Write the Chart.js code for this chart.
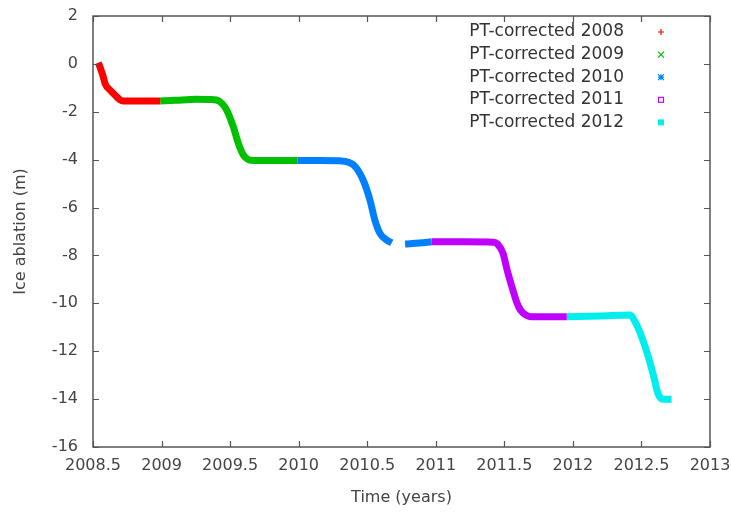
<!DOCTYPE html>
<html><head><meta charset="utf-8">
<script src="https://cdn.jsdelivr.net/npm/chart.js@4/dist/chart.umd.min.js"></script>
<style>html,body{margin:0;padding:0;background:#fff}</style>
</head><body>
<canvas id="c" width="731" height="512"></canvas>
<script>
// ---- data ----
const seriesLabels = ['PT-corrected 2008','PT-corrected 2009','PT-corrected 2010','PT-corrected 2011','PT-corrected 2012'];
const seriesColors = ['#ff0000','#00c000','#0080ff','#c000ff','#00eeee'];
const seriesMarkers = ['plus','cross','star','openSquare','filledSquare'];

const t2008 = [2008.539, 2008.552, 2008.570, 2008.590, 2008.624, 2008.660, 2008.697, 2008.72, 2008.85, 2008.99];
const v2008 = [0.05, -0.15, -0.45, -0.85, -1.09, -1.30, -1.50, -1.55, -1.55, -1.55];

const t2009 = [2008.99, 2009.10, 2009.256, 2009.35, 2009.40, 2009.44, 2009.475, 2009.523, 2009.56, 2009.596, 2009.625, 2009.645, 2009.75, 2009.90, 2009.99];
const v2009 = [-1.55, -1.52, -1.48, -1.49, -1.51, -1.65, -1.93, -2.62, -3.32, -3.80, -3.97, -4.02, -4.03, -4.03, -4.03];

const t2010 = [2009.99, 2010.15, 2010.30, 2010.40, 2010.47, 2010.52, 2010.556, 2010.593, 2010.642, 2010.679, 2010.72, 2010.776, 2010.88, 2010.97];
const v2010 = [-4.03, -4.03, -4.05, -4.22, -4.85, -5.69, -6.53, -7.08, -7.36, -7.47, null, -7.52, -7.48, -7.43];

const t2011 = [2010.97, 2011.20, 2011.42, 2011.45, 2011.49, 2011.52, 2011.56, 2011.59, 2011.62, 2011.66, 2011.70, 2011.82, 2011.955];
const v2011 = [-7.43, -7.43, -7.45, -7.52, -7.90, -8.60, -9.40, -9.95, -10.30, -10.50, -10.56, -10.56, -10.56];

const t2012 = [2011.955, 2012.20, 2012.415, 2012.46, 2012.51, 2012.55, 2012.59, 2012.62, 2012.66, 2012.72];
const v2012 = [-10.56, -10.53, -10.49, -10.84, -11.53, -12.23, -13.07, -13.76, -14.01, -14.01];

const xTicks = [2008.5, 2009, 2009.5, 2010, 2010.5, 2011, 2011.5, 2012, 2012.5, 2013];
const yTicks = [2, 0, -2, -4, -6, -8, -10, -12, -14, -16];
const xTitle = 'Time (years)';
const yTitle = 'Ice ablation (m)';

// ---- build datasets ----
const allT = [t2008, t2009, t2010, t2011, t2012];
const allV = [v2008, v2009, v2010, v2011, v2012];
const datasets = allT.map((ts, i) => ({
  label: seriesLabels[i],
  data: ts.map((t, j) => ({x: t, y: allV[i][j]})),
  borderColor: seriesColors[i],
  backgroundColor: seriesColors[i],
  showLine: true,
  borderWidth: 7,
  pointRadius: 0,
  cubicInterpolationMode: 'monotone',
  spanGaps: false
}));

Chart.defaults.font.family = 'DejaVu Sans';
Chart.defaults.font.size = 16;
Chart.defaults.color = '#444';

const frameAndLegend = {
  id: 'frameAndLegend',
  afterDatasetsDraw(chart) {
    const {ctx, chartArea: a, scales} = chart;
    ctx.save();
    // inward ticks on all four sides
    ctx.strokeStyle = '#555';
    ctx.lineWidth = 1.2;
    const L = 6;
    ctx.beginPath();
    xTicks.forEach(v => {
      const px = Math.round(scales.x.getPixelForValue(v)) + 0.5;
      ctx.moveTo(px, a.bottom); ctx.lineTo(px, a.bottom - L);
      ctx.moveTo(px, a.top); ctx.lineTo(px, a.top + L);
    });
    yTicks.forEach(v => {
      const py = Math.round(scales.y.getPixelForValue(v)) + 0.5;
      ctx.moveTo(a.left, py); ctx.lineTo(a.left + L, py);
      ctx.moveTo(a.right, py); ctx.lineTo(a.right - L, py);
    });
    ctx.stroke();
    ctx.lineWidth = 1.5;
    ctx.strokeStyle = '#555';
    ctx.strokeRect(a.left, a.top, a.right - a.left, a.bottom - a.top);

    // legend (gnuplot style: text right-aligned, marker to the right)
    ctx.font = '17px "DejaVu Sans"';
    ctx.textAlign = 'right';
    ctx.textBaseline = 'middle';
    chart.data.datasets.forEach((ds, i) => {
      const y = 32 + i * 22.6;
      ctx.fillStyle = '#333';
      ctx.fillText(ds.label, 624, y);
      const mx = 661, s = 3;
      ctx.strokeStyle = seriesColors[i];
      ctx.fillStyle = seriesColors[i];
      ctx.lineWidth = 1.2;
      ctx.beginPath();
      const m = seriesMarkers[i];
      if (m === 'plus' || m === 'star') {
        ctx.moveTo(mx - s, y); ctx.lineTo(mx + s, y);
        ctx.moveTo(mx, y - s); ctx.lineTo(mx, y + s);
      }
      if (m === 'cross' || m === 'star') {
        ctx.moveTo(mx - s, y - s); ctx.lineTo(mx + s, y + s);
        ctx.moveTo(mx - s, y + s); ctx.lineTo(mx + s, y - s);
      }
      ctx.stroke();
      if (m === 'openSquare') ctx.strokeRect(mx - 2.5, y - 2.5, 5, 5);
      if (m === 'filledSquare') ctx.fillRect(mx - 3, y - 3, 6, 6);
    });
    ctx.restore();
  }
};

new Chart(document.getElementById('c'), {
  type: 'scatter',
  data: {datasets},
  options: {
    responsive: false,
    animation: false,
    layout: {padding: {left: 0, right: 21, top: 16, bottom: 0}},
    plugins: {legend: {display: false}, tooltip: {enabled: false}},
    scales: {
      x: {
        type: 'linear', min: 2008.5, max: 2013,
        afterBuildTicks: s => { s.ticks = xTicks.map(v => ({value: v})); },
        afterFit: s => { s.height = 65; s.paddingLeft = 0; s.paddingRight = 0; },
        grid: {display: false, drawTicks: false},
        border: {display: false},
        ticks: {padding: 9, color: '#444', callback: v => String(v)},
        title: {display: true, text: xTitle, color: '#444', padding: {top: 0, bottom: 5}}
      },
      y: {
        type: 'linear', min: -16, max: 2,
        afterBuildTicks: s => { s.ticks = yTicks.map(v => ({value: v})); },
        afterFit: s => { s.width = 93; s.paddingTop = 0; s.paddingBottom = 0; },
        grid: {display: false, drawTicks: false},
        border: {display: false},
        ticks: {padding: 15, color: '#444', callback: v => String(v)},
        title: {display: true, text: yTitle, color: '#444', padding: {top: 11, bottom: 0}}
      }
    }
  },
  plugins: [frameAndLegend]
});
</script>
</body></html>
